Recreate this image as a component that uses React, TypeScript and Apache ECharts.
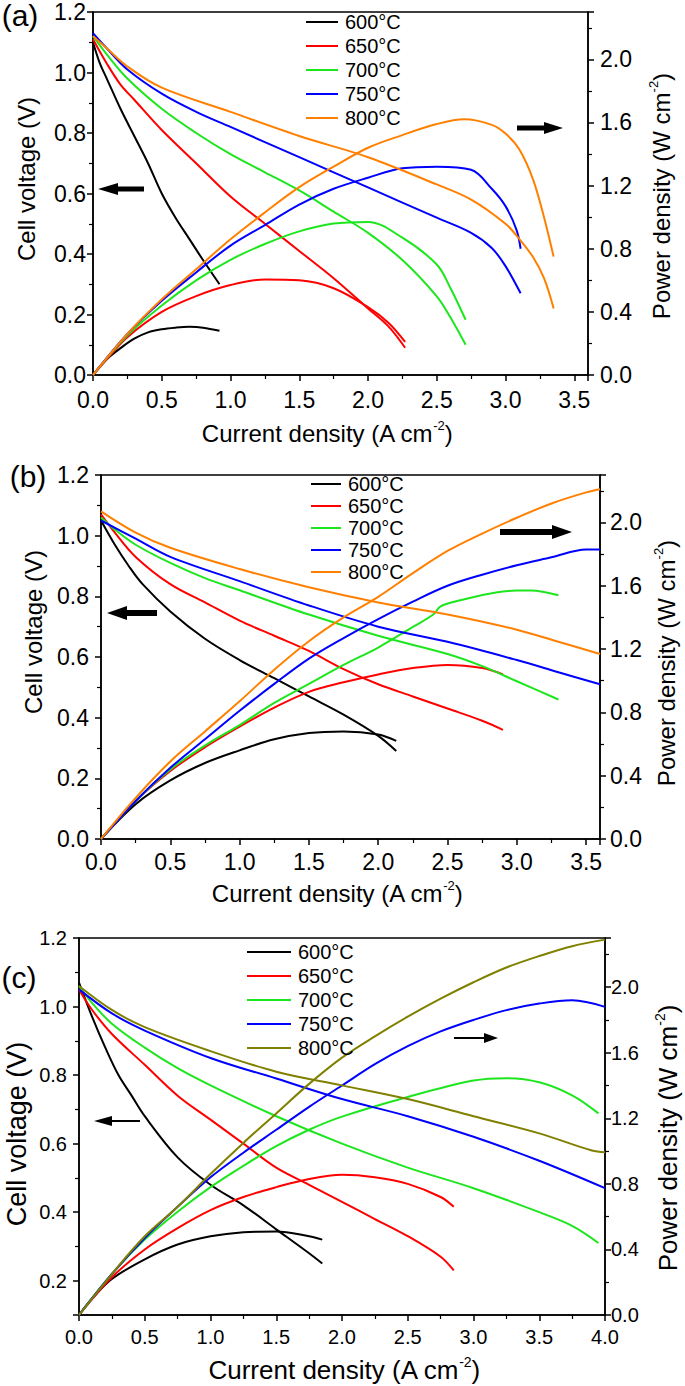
import React, { useEffect, useRef } from 'react';
import * as echarts from 'echarts';

const temps = ['600°C', '650°C', '700°C', '750°C', '800°C'];
const colorsAB = ['#000000', '#ff0000', '#1ee61e', '#0000ff', '#ff8000'];
const colorsC = ['#000000', '#ff0000', '#1ee61e', '#0000ff', '#808000'];

// ---------- Panel (a) ----------
const a600I_V = [0, 0.05, 0.1, 0.2, 0.3, 0.4, 0.5, 0.6, 0.7, 0.8, 0.92];
const a600V = [1.10, 1.03, 0.98, 0.88, 0.79, 0.70, 0.60, 0.52, 0.45, 0.38, 0.30];
const a600I_P = [0, 0.1, 0.2, 0.3, 0.4, 0.5, 0.6, 0.7, 0.8, 0.92];
const a600P = [0, 0.10, 0.17, 0.23, 0.27, 0.29, 0.30, 0.305, 0.30, 0.28];

const a650I_V = [0, 0.1, 0.2, 0.3, 0.5, 0.75, 1.0, 1.25, 1.5, 1.75, 2.0, 2.15, 2.27];
const a650V = [1.11, 1.03, 0.96, 0.91, 0.81, 0.70, 0.59, 0.50, 0.41, 0.32, 0.22, 0.16, 0.09];
const a650I_P = [0, 0.1, 0.25, 0.5, 0.75, 1.0, 1.25, 1.5, 1.75, 2.0, 2.15, 2.27];
const a650P = [0, 0.10, 0.24, 0.40, 0.50, 0.57, 0.605, 0.60, 0.55, 0.43, 0.33, 0.21];

const a700I_V = [0, 0.1, 0.25, 0.5, 0.75, 1.0, 1.25, 1.5, 1.75, 2.0, 2.25, 2.5, 2.6, 2.71];
const a700V = [1.12, 1.06, 0.98, 0.88, 0.80, 0.73, 0.67, 0.61, 0.54, 0.47, 0.38, 0.26, 0.19, 0.10];
const a700I_P = [0, 0.25, 0.5, 0.75, 1.0, 1.25, 1.5, 1.75, 2.0, 2.25, 2.5, 2.6, 2.71];
const a700P = [0, 0.25, 0.44, 0.60, 0.73, 0.83, 0.91, 0.96, 0.97, 0.87, 0.70, 0.55, 0.35];

const a750I_V = [0, 0.1, 0.25, 0.5, 0.75, 1.0, 1.5, 2.0, 2.5, 2.75, 2.9, 3.0, 3.11];
const a750V = [1.13, 1.08, 1.01, 0.93, 0.87, 0.82, 0.72, 0.62, 0.52, 0.47, 0.42, 0.36, 0.27];
const a750I_P = [0, 0.25, 0.5, 0.75, 1.0, 1.25, 1.5, 1.75, 2.0, 2.25, 2.5, 2.75, 2.9, 3.0, 3.08, 3.11];
const a750P = [0, 0.26, 0.47, 0.65, 0.82, 0.95, 1.08, 1.18, 1.25, 1.31, 1.32, 1.30, 1.18, 1.07, 0.92, 0.80];

const a800I_V = [0, 0.1, 0.25, 0.5, 1.0, 1.5, 2.0, 2.5, 2.75, 3.0, 3.1, 3.2, 3.28, 3.35];
const a800V = [1.12, 1.08, 1.02, 0.95, 0.87, 0.79, 0.72, 0.63, 0.58, 0.50, 0.45, 0.39, 0.32, 0.22];
const a800I_P = [0, 0.25, 0.5, 0.75, 1.0, 1.25, 1.5, 1.75, 2.0, 2.25, 2.5, 2.7, 2.9, 3.0, 3.1, 3.2, 3.28, 3.35];
const a800P = [0, 0.26, 0.48, 0.67, 0.86, 1.03, 1.19, 1.32, 1.44, 1.52, 1.59, 1.62, 1.585, 1.53, 1.43, 1.24, 1.0, 0.75];

// ---------- Panel (b) ----------
const b600I_V = [0, 0.1, 0.2, 0.3, 0.5, 0.75, 1.0, 1.25, 1.5, 1.75, 2.0, 2.13];
const b600V = [1.05, 0.97, 0.90, 0.84, 0.75, 0.66, 0.59, 0.53, 0.47, 0.41, 0.34, 0.29];
const b600I_P = [0, 0.25, 0.5, 0.75, 1.0, 1.25, 1.5, 1.75, 2.0, 2.13];
const b600P = [0, 0.22, 0.37, 0.48, 0.56, 0.63, 0.67, 0.68, 0.66, 0.62];

const b650I_V = [0, 0.1, 0.25, 0.5, 0.75, 1.0, 1.25, 1.5, 1.75, 2.0, 2.25, 2.5, 2.75, 2.9];
const b650V = [1.07, 1.01, 0.93, 0.84, 0.78, 0.72, 0.67, 0.62, 0.56, 0.51, 0.47, 0.43, 0.39, 0.36];
const b650I_P = [0, 0.25, 0.5, 0.75, 1.0, 1.25, 1.5, 1.75, 2.0, 2.25, 2.5, 2.75, 2.9];
const b650P = [0, 0.24, 0.43, 0.58, 0.71, 0.83, 0.93, 0.99, 1.04, 1.08, 1.10, 1.08, 1.04];

const b700I_V = [0, 0.1, 0.25, 0.5, 0.75, 1.0, 1.5, 2.0, 2.5, 2.75, 3.0, 3.3];
const b700V = [1.06, 1.02, 0.97, 0.91, 0.86, 0.82, 0.74, 0.67, 0.61, 0.57, 0.52, 0.46];
const b700I_P = [0, 0.25, 0.5, 0.75, 1.0, 1.25, 1.5, 1.75, 2.0, 2.25, 2.4, 2.45, 2.6, 2.8, 3.0, 3.1, 3.3];
const b700P = [0, 0.24, 0.44, 0.59, 0.72, 0.86, 0.98, 1.10, 1.21, 1.34, 1.42, 1.47, 1.51, 1.55, 1.57, 1.57, 1.54];

const b750I_V = [0, 0.25, 0.5, 1.0, 1.5, 2.0, 2.5, 3.0, 3.3, 3.6];
const b750V = [1.05, 0.99, 0.93, 0.85, 0.77, 0.70, 0.65, 0.59, 0.55, 0.51];
const b750I_P = [0, 0.25, 0.5, 0.75, 1.0, 1.25, 1.5, 1.75, 2.0, 2.25, 2.5, 2.75, 3.0, 3.25, 3.5, 3.6];
const b750P = [0, 0.24, 0.45, 0.63, 0.81, 0.98, 1.14, 1.27, 1.39, 1.50, 1.60, 1.67, 1.73, 1.78, 1.83, 1.83];

const b800I_V = [0, 0.25, 0.5, 1.0, 1.5, 2.0, 2.5, 3.0, 3.3, 3.6];
const b800V = [1.08, 1.01, 0.96, 0.89, 0.83, 0.78, 0.74, 0.69, 0.65, 0.61];
const b800I_P = [0, 0.25, 0.5, 0.75, 1.0, 1.25, 1.5, 1.75, 2.0, 2.25, 2.5, 2.75, 3.0, 3.25, 3.5, 3.6];
const b800P = [0, 0.26, 0.49, 0.68, 0.87, 1.07, 1.25, 1.40, 1.53, 1.68, 1.82, 1.93, 2.03, 2.12, 2.19, 2.21];

// ---------- Panel (c) ----------
const c600I_V = [0, 0.1, 0.2, 0.3, 0.4, 0.5, 0.75, 1.0, 1.25, 1.5, 1.75, 1.85];
const c600V = [1.07, 0.97, 0.88, 0.80, 0.74, 0.68, 0.56, 0.48, 0.42, 0.35, 0.28, 0.25];
const c600I_P = [0, 0.1, 0.25, 0.5, 0.75, 1.0, 1.25, 1.5, 1.75, 1.85];
const c600P = [0, 0.10, 0.22, 0.34, 0.43, 0.48, 0.505, 0.51, 0.48, 0.46];

const c650I_V = [0, 0.1, 0.25, 0.5, 0.75, 1.0, 1.25, 1.5, 1.75, 2.0, 2.25, 2.5, 2.75, 2.85];
const c650V = [1.05, 0.99, 0.92, 0.83, 0.74, 0.67, 0.60, 0.53, 0.48, 0.43, 0.38, 0.33, 0.27, 0.23];
const c650I_P = [0, 0.25, 0.5, 0.75, 1.0, 1.25, 1.5, 1.75, 2.0, 2.25, 2.5, 2.75, 2.85];
const c650P = [0, 0.23, 0.40, 0.53, 0.64, 0.72, 0.78, 0.83, 0.855, 0.84, 0.80, 0.72, 0.66];

const c700I_V = [0, 0.1, 0.25, 0.5, 0.75, 1.0, 1.5, 2.0, 2.5, 3.0, 3.5, 3.75, 3.95];
const c700V = [1.06, 1.01, 0.95, 0.88, 0.82, 0.77, 0.68, 0.60, 0.53, 0.47, 0.40, 0.36, 0.31];
const c700I_P = [0, 0.25, 0.5, 0.75, 1.0, 1.25, 1.5, 1.75, 2.0, 2.5, 3.0, 3.25, 3.5, 3.75, 3.95];
const c700P = [0, 0.25, 0.46, 0.63, 0.78, 0.91, 1.03, 1.13, 1.21, 1.33, 1.43, 1.445, 1.42, 1.34, 1.23];

const c750I_V = [0, 0.25, 0.5, 1.0, 1.5, 2.0, 2.5, 3.0, 3.5, 4.0];
const c750V = [1.05, 0.98, 0.93, 0.85, 0.79, 0.73, 0.68, 0.62, 0.55, 0.47];
const c750I_P = [0, 0.25, 0.5, 0.75, 1.0, 1.25, 1.5, 1.75, 2.0, 2.25, 2.5, 2.75, 3.0, 3.25, 3.5, 3.75, 4.0];
const c750P = [0, 0.25, 0.47, 0.66, 0.84, 0.99, 1.13, 1.27, 1.40, 1.53, 1.64, 1.73, 1.80, 1.86, 1.90, 1.92, 1.88];

const c800I_V = [0, 0.25, 0.5, 1.0, 1.5, 2.0, 2.5, 3.0, 3.5, 3.9, 4.0];
const c800V = [1.06, 0.99, 0.94, 0.87, 0.81, 0.77, 0.73, 0.68, 0.63, 0.58, 0.575];
const c800I_P = [0, 0.25, 0.5, 0.75, 1.0, 1.25, 1.5, 1.75, 2.0, 2.25, 2.5, 2.75, 3.0, 3.25, 3.5, 3.75, 4.0];
const c800P = [0, 0.25, 0.48, 0.66, 0.86, 1.05, 1.23, 1.41, 1.57, 1.70, 1.82, 1.93, 2.03, 2.12, 2.19, 2.25, 2.29];

const panelA = [
  [a600I_V, a600V, a600I_P, a600P],
  [a650I_V, a650V, a650I_P, a650P],
  [a700I_V, a700V, a700I_P, a700P],
  [a750I_V, a750V, a750I_P, a750P],
  [a800I_V, a800V, a800I_P, a800P],
];
const panelB = [
  [b600I_V, b600V, b600I_P, b600P],
  [b650I_V, b650V, b650I_P, b650P],
  [b700I_V, b700V, b700I_P, b700P],
  [b750I_V, b750V, b750I_P, b750P],
  [b800I_V, b800V, b800I_P, b800P],
];
const panelC = [
  [c600I_V, c600V, c600I_P, c600P],
  [c650I_V, c650V, c650I_P, c650P],
  [c700I_V, c700V, c700I_P, c700P],
  [c750I_V, c750V, c750I_P, c750P],
  [c800I_V, c800V, c800I_P, c800P],
];

const FONT = '"Liberation Sans", Arial, Helvetica, sans-serif';

function pairs(xs: number[], ys: number[]) {
  return xs.map((x, i) => [x, ys[i]]);
}

function buildSeries(panel: number[][][], colors: string[], gi: number) {
  const out: any[] = [];
  panel.forEach((p, i) => {
    const base = {
      type: 'line',
      name: temps[i],
      xAxisIndex: gi,
      symbol: 'none',
      showSymbol: false,
      smooth: 0.35,
      lineStyle: { color: colors[i], width: 2 },
      itemStyle: { color: colors[i] },
      emphasis: { disabled: true },
    };
    out.push({ ...base, yAxisIndex: gi * 2, data: pairs(p[0], p[1]) });
    out.push({ ...base, yAxisIndex: gi * 2 + 1, data: pairs(p[2], p[3]) });
  });
  return out;
}

const lineStyleAxis = { color: '#000', width: 1.5 };

function xAxisCfg(gi: number, max: number, fontSize: number, margin: number) {
  return {
    type: 'value',
    gridIndex: gi,
    min: 0,
    max,
    interval: 0.5,
    axisLine: { show: true, onZero: false, lineStyle: lineStyleAxis },
    axisTick: { show: true, length: 6, lineStyle: lineStyleAxis },
    minorTick: { show: true, splitNumber: 2, length: 4, lineStyle: { color: '#000', width: 1.2 } },
    splitLine: { show: false },
    minorSplitLine: { show: false },
    axisLabel: {
      color: '#000', fontSize, fontFamily: FONT, margin,
      formatter: (v: number) => (Math.abs(v * 2 - Math.round(v * 2)) > 0.01 ? '' : v.toFixed(1)),
    },
  };
}

function yLeftCfg(gi: number, min: number, fontSize: number, margin: number) {
  const cfg: any = {
    type: 'value',
    gridIndex: gi,
    position: 'left',
    min,
    max: 1.2,
    axisLine: { show: true, onZero: false, lineStyle: lineStyleAxis },
    axisTick: { show: true, length: 6, lineStyle: lineStyleAxis },
    minorTick: { show: true, splitNumber: 2, length: 4, lineStyle: { color: '#000', width: 1.2 } },
    splitLine: { show: false },
    minorSplitLine: { show: false },
    axisLabel: {
      color: '#000', fontSize, fontFamily: FONT, margin,
      formatter: (v: number) => (v < 0.15 && min > 0 ? '' : v.toFixed(1)),
    },
  };
  if (min === 0) cfg.interval = 0.2;
  return cfg;
}

function yRightCfg(gi: number, fontSize: number, margin: number) {
  return {
    type: 'value',
    gridIndex: gi,
    position: 'right',
    min: 0,
    max: 2.3,
    interval: 0.4,
    axisLine: { show: true, onZero: false, lineStyle: lineStyleAxis },
    axisTick: { show: true, length: 6, lineStyle: lineStyleAxis },
    minorTick: { show: true, splitNumber: 2, length: 4, lineStyle: { color: '#000', width: 1.2 } },
    splitLine: { show: false },
    minorSplitLine: { show: false },
    axisLabel: {
      color: '#000', fontSize, fontFamily: FONT, margin,
      formatter: (v: number) => (v > 2.1 ? '' : v.toFixed(1)),
    },
  };
}

function legendCfg(left: number, top: number, width: number, gap: number, fontSize: number, colors: string[]) {
  return {
    orient: 'vertical',
    left,
    top,
    icon: 'rect',
    itemWidth: width,
    itemHeight: 2,
    itemGap: gap,
    selectedMode: false,
    padding: 0,
    textStyle: { color: '#000', fontSize, fontFamily: FONT, padding: [0, 0, 0, 2] },
    data: temps.map((t, i) => ({
      name: t,
      icon: 'rect',
      itemStyle: { color: colors[i] },
    })),
  };
}

function txt(x: number, y: number, text: string, fontSize: number, rotate = 0, rich?: any) {
  return {
    type: 'text',
    x,
    y,
    rotation: rotate,
    style: {
      text,
      fontSize,
      fontFamily: FONT,
      fill: '#000',
      align: 'center',
      verticalAlign: 'middle',
      rich,
    },
  };
}

function supRich(fontSize: number) {
  return {
    n: { fontSize, fontFamily: FONT, fill: '#000', lineHeight: fontSize + 4 },
    s: { fontSize: Math.round(fontSize * 0.55), fontFamily: FONT, fill: '#000', verticalAlign: 'top', lineHeight: fontSize + 4 },
  };
}

function arrow(tailX: number, tipX: number, y: number, w: number, hl: number, hh: number) {
  const dir = tipX > tailX ? 1 : -1;
  const baseX = tipX - dir * hl;
  return {
    type: 'group',
    children: [
      { type: 'line', shape: { x1: tailX, y1: y, x2: baseX + dir, y2: y }, style: { stroke: '#000', lineWidth: w } },
      { type: 'polygon', shape: { points: [[tipX, y], [baseX, y - hh], [baseX, y + hh]] }, style: { fill: '#000' } },
    ],
  };
}

export default function App() {
  const ref = useRef<HTMLDivElement>(null);
  useEffect(() => {
    document.body.style.margin = '0';
    if (!ref.current) return;
    const chart = echarts.init(ref.current, undefined, { renderer: 'svg' });
    const gridBase = { show: true, borderColor: '#000', borderWidth: 1.5, backgroundColor: 'transparent', containLabel: false };
    const option: any = {
      animation: false,
      backgroundColor: '#fff',
      grid: [
        { ...gridBase, left: 93, right: 97, top: 12, height: 363 },
        { ...gridBase, left: 101, right: 85, top: 475, height: 364 },
        { ...gridBase, left: 79, right: 80, top: 938, height: 377 },
      ],
      xAxis: [
        xAxisCfg(0, 3.6, 23, 13),
        xAxisCfg(1, 3.6, 23, 11),
        xAxisCfg(2, 4.0, 20, 12),
      ],
      yAxis: [
        yLeftCfg(0, 0, 23, 7),
        yRightCfg(0, 23, 12),
        yLeftCfg(1, 0, 23, 12),
        yRightCfg(1, 23, 10),
        yLeftCfg(2, 0.1, 20, 12),
        yRightCfg(2, 20, 6),
      ],
      legend: [
        legendCfg(306, 12, 32, 4, 20, colorsAB),
        legendCfg(311, 474, 30, 2, 20, colorsAB),
        legendCfg(247, 942, 44, 4, 20, colorsC),
      ],
      series: [
        ...buildSeries(panelA, colorsAB, 0),
        ...buildSeries(panelB, colorsAB, 1),
        ...buildSeries(panelC, colorsC, 2),
      ],
      graphic: [
        txt(20, 15, '(a)', 30),
        txt(28, 476, '(b)', 30),
        txt(19, 977, '(c)', 30),
        // axis titles panel a
        txt(327, 433, '{n|Current density (A cm}{s|-2}{n|)}', 24, 0, supRich(24)),
        txt(26, 179, 'Cell voltage (V)', 24, Math.PI / 2),
        txt(661, 196, '{n|Power density (W cm}{s|-2}{n|)}', 24, Math.PI / 2, supRich(24)),
        // panel b
        txt(337, 893, '{n|Current density (A cm}{s|-2}{n|)}', 24, 0, supRich(24)),
        txt(33, 632, 'Cell voltage (V)', 24, Math.PI / 2),
        txt(666, 663, '{n|Power density (W cm}{s|-2}{n|)}', 24, Math.PI / 2, supRich(24)),
        // panel c
        txt(344, 1370, '{n|Current density (A cm}{s|-2}{n|)}', 26, 0, supRich(26)),
        txt(17, 1134, 'Cell voltage (V)', 27, Math.PI / 2),
        txt(668, 1138, '{n|Power density (W cm}{s|-2}{n|)}', 26, Math.PI / 2, supRich(26)),
        // arrows
        arrow(144, 98, 189, 5, 20, 6),
        arrow(517, 563, 128, 5, 19, 6),
        arrow(157, 107, 613, 6, 20, 7),
        arrow(500, 572, 532, 6, 20, 7),
        arrow(140, 94, 1121, 2, 18, 5),
        arrow(454, 498, 1038, 2, 14, 5),
      ],
    };
    chart.setOption(option);
    return () => {
      chart.dispose();
    };
  }, []);
  return <div ref={ref} style={{ width: 685, height: 1386 }} />;
}
